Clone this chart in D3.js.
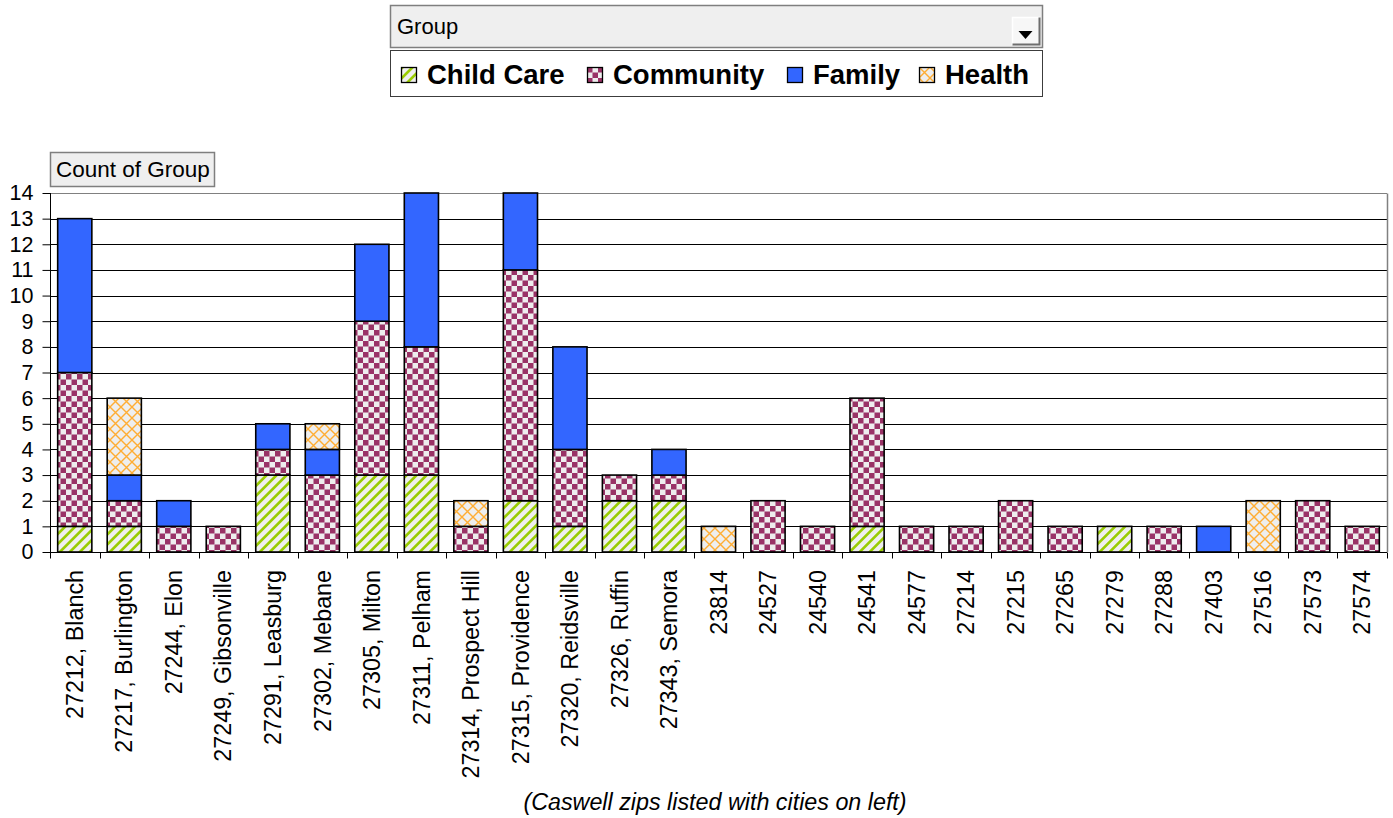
<!DOCTYPE html>
<html>
<head>
<meta charset="utf-8">
<script src="https://cdn.jsdelivr.net/npm/d3@7"></script>
<style>
  html, body { margin: 0; padding: 0; background: #ffffff; }
  svg { display: block; font-family: Arial, "Liberation Sans", sans-serif; }
</style>
</head>
<body>
<svg id="chart" width="1393" height="818"></svg>
<script>
// ---------------- data ----------------
const categories = [
  "27212, Blanch", "27217, Burlington", "27244, Elon", "27249, Gibsonville",
  "27291, Leasburg", "27302, Mebane", "27305, Milton", "27311, Pelham",
  "27314, Prospect Hill", "27315, Providence", "27320, Reidsville", "27326, Ruffin",
  "27343, Semora", "23814", "24527", "24540", "24541", "24577", "27214", "27215",
  "27265", "27279", "27288", "27403", "27516", "27573", "27574"
];
const seriesNames = ["Child Care", "Community", "Family", "Health"];
const childCare = [1,1,0,0,3,0,3,3,0,2,1,2,2,0,0,0,1,0,0,0,0,1,0,0,0,0,0];
const community = [6,1,1,1,1,3,6,5,1,9,3,1,1,0,2,1,5,1,1,2,1,0,1,0,0,2,1];
const family    = [6,1,1,0,1,1,3,6,0,3,4,0,1,0,0,0,0,0,0,0,0,0,0,1,0,0,0];
const health    = [0,3,0,0,0,1,0,0,1,0,0,0,0,1,0,0,0,0,0,0,0,0,0,0,2,0,0];
const yTicks = d3.range(0, 15);
const filterLabel = "Group";
const dataButtonLabel = "Count of Group";
const footnote = "(Caswell zips listed with cities on left)";

const rows = categories.map((c, i) => ({
  cat: c,
  "Child Care": childCare[i],
  "Community": community[i],
  "Family": family[i],
  "Health": health[i]
}));

// ---------------- setup ----------------
const svg = d3.select("#chart");
const defs = svg.append("defs");

// Child Care: light grey with green diagonal stripes
const pCC = defs.append("pattern").attr("id", "pCC")
  .attr("patternUnits", "userSpaceOnUse").attr("width", 7.07).attr("height", 7.07)
  .attr("patternTransform", "rotate(45)");
pCC.append("rect").attr("width", 7.07).attr("height", 7.07).attr("fill", "#eeeeee");
pCC.append("rect").attr("width", 2.6).attr("height", 7.07).attr("fill", "#99cc00");

// Community: maroon checkerboard
const pCO = defs.append("pattern").attr("id", "pCO")
  .attr("patternUnits", "userSpaceOnUse").attr("width", 11).attr("height", 11);
pCO.append("rect").attr("width", 11).attr("height", 11).attr("fill", "#eeeeee");
pCO.append("rect").attr("x", 0).attr("y", 0).attr("width", 5.5).attr("height", 5.5).attr("fill", "#993366");
pCO.append("rect").attr("x", 5.5).attr("y", 5.5).attr("width", 5.5).attr("height", 5.5).attr("fill", "#993366");

// Health: orange diamond lattice
const pHE = defs.append("pattern").attr("id", "pHE")
  .attr("patternUnits", "userSpaceOnUse").attr("width", 11).attr("height", 11);
pHE.append("rect").attr("width", 11).attr("height", 11).attr("fill", "#eeeeee");
pHE.append("path").attr("d", "M-1,-1 L12,12 M12,-1 L-1,12")
  .attr("stroke", "#ffad33").attr("stroke-width", 1.4).attr("fill", "none");

const fills = {
  "Child Care": "url(#pCC)",
  "Community": "url(#pCO)",
  "Family": "#3366ff",
  "Health": "url(#pHE)"
};

// ---------------- scales ----------------
const plotLeft = 50, plotRight = 1387, plotBottom = 552, plotTop = 193;

const x = d3.scaleBand()
  .domain(categories)
  .range([plotLeft, plotRight])
  .paddingInner(0.31)
  .paddingOuter(0.155);

const y = d3.scaleLinear().domain([0, 14]).range([plotBottom, plotTop]);

// ---------------- gridlines ----------------
svg.append("g").selectAll("line")
  .data(yTicks.filter(d => d > 0))
  .join("line")
  .attr("x1", plotLeft).attr("x2", plotRight)
  .attr("y1", d => Math.round(y(d)) + 0.5).attr("y2", d => Math.round(y(d)) + 0.5)
  .attr("stroke", d => d === 14 ? "#808080" : "#000")
  .attr("stroke-width", 1);

// right border of plot area
svg.append("line")
  .attr("x1", plotRight + 0.5).attr("x2", plotRight + 0.5)
  .attr("y1", Math.round(y(14)) + 0.5).attr("y2", plotBottom)
  .attr("stroke", "#808080").attr("stroke-width", 1.5);

// ---------------- bars ----------------
const stack = d3.stack().keys(seriesNames);
const stacked = stack(rows);

const gBars = svg.append("g");
stacked.forEach(layer => {
  gBars.append("g").selectAll("rect")
    .data(layer.filter(d => d[1] - d[0] > 0))
    .join("rect")
    .attr("x", d => x(d.data.cat))
    .attr("width", x.bandwidth())
    .attr("y", d => y(d[1]))
    .attr("height", d => y(d[0]) - y(d[1]))
    .attr("fill", fills[layer.key])
    .attr("stroke", "#000")
    .attr("stroke-width", 1.6);
});

// ---------------- y axis ----------------
const yAxis = d3.axisLeft(y).tickValues(yTicks).tickSize(8).tickPadding(9).tickFormat(d3.format("d"));
const gy = svg.append("g").attr("transform", `translate(${plotLeft + 0.5},0)`).call(yAxis);
gy.select(".domain").attr("d", `M0,${plotTop}V${plotBottom + 6}`).attr("stroke", "#000");
gy.selectAll(".tick line").attr("stroke", "#000");
gy.selectAll(".tick text")
  .attr("font-size", 21.5).attr("fill", "#000")
  .attr("font-family", "Arial, 'Liberation Sans', sans-serif");

// ---------------- x axis ----------------
const gx = svg.append("g").attr("transform", `translate(0,${plotBottom + 0.5})`);
gx.append("line").attr("x1", plotLeft).attr("x2", plotRight).attr("y1", 0).attr("y2", 0)
  .attr("stroke", "#000");
const gap = (x.step() - x.bandwidth()) / 2;
const boundaries = categories.map(c => x(c) - gap).concat([x(categories[categories.length - 1]) + x.bandwidth() + gap]);
gx.selectAll("line.tk").data(boundaries).join("line").attr("class", "tk")
  .attr("x1", d => Math.round(d) + 0.5).attr("x2", d => Math.round(d) + 0.5)
  .attr("y1", 0).attr("y2", 6).attr("stroke", "#000");

const xAxis = d3.axisBottom(x).tickSize(0).tickPadding(0);
const gxl = svg.append("g").attr("transform", `translate(0,${plotBottom})`).call(xAxis);
gxl.select(".domain").remove();
gxl.selectAll(".tick text")
  .attr("font-size", 23.3).attr("fill", "#000")
  .attr("font-family", "Arial, 'Liberation Sans', sans-serif")
  .attr("text-anchor", "end")
  .attr("dy", "0.35em")
  .attr("transform", "translate(0,18) rotate(-90)")
  .attr("x", 0).attr("y", 0);

// ---------------- footnote ----------------
svg.append("text")
  .attr("x", 715).attr("y", 810)
  .attr("text-anchor", "middle")
  .attr("font-size", 23.3).attr("font-style", "italic")
  .text(footnote);

// ---------------- field button helper ----------------
function bevelBox(g, bx, by, bw, bh, fill) {
  g.append("rect").attr("x", bx).attr("y", by).attr("width", bw).attr("height", bh)
    .attr("fill", fill);
  g.append("path").attr("d", `M${bx + 0.5},${by + bh}V${by + 0.5}H${bx + bw}`)
    .attr("stroke", "#ffffff").attr("stroke-width", 1.5).attr("fill", "none");
  g.append("path").attr("d", `M${bx + 0.5},${by + bh - 0.5}H${bx + bw - 0.5}V${by + 0.5}`)
    .attr("stroke", "#6e6e6e").attr("stroke-width", 2).attr("fill", "none");
}

// Group dropdown
const gTop = svg.append("g");
gTop.append("rect").attr("x", 390.5).attr("y", 5.5).attr("width", 652).attr("height", 42)
  .attr("fill", "#efefef").attr("stroke", "#7f7f7f").attr("stroke-width", 1.5);
gTop.append("text").attr("x", 397).attr("y", 34).attr("font-size", 22).text(filterLabel);
bevelBox(gTop, 1012, 17, 28, 28, "#f7f7f7");
gTop.append("path").attr("d", "M1018.5,31 L1032.5,31 L1025.5,39 Z").attr("fill", "#000");

// legend box
gTop.append("rect").attr("x", 390.5).attr("y", 50.5).attr("width", 652).attr("height", 46)
  .attr("fill", "#ffffff").attr("stroke", "#3c3c3c").attr("stroke-width", 1);
const legendX = [401, 587, 787, 919];
seriesNames.forEach((s, i) => {
  const lg = gTop.append("g").attr("transform", `translate(${legendX[i]},67)`);
  lg.append("rect").attr("x", 0.5).attr("y", 0.5).attr("width", 15).attr("height", 15)
    .attr("fill", fills[s]).attr("stroke", "#000").attr("stroke-width", 1.3);
  lg.append("text").attr("x", 26).attr("y", 16.5).attr("font-size", 27.5)
    .attr("font-weight", "bold").text(s);
});

// Count of Group button
const gBtn = svg.append("g");
gBtn.append("rect").attr("x", 50.5).attr("y", 152.5).attr("width", 164).attr("height", 34)
  .attr("fill", "#efefef").attr("stroke", "#7f7f7f").attr("stroke-width", 1.5);
gBtn.append("text").attr("x", 56).attr("y", 177).attr("font-size", 22.5).text(dataButtonLabel);
</script>
</body>
</html>
